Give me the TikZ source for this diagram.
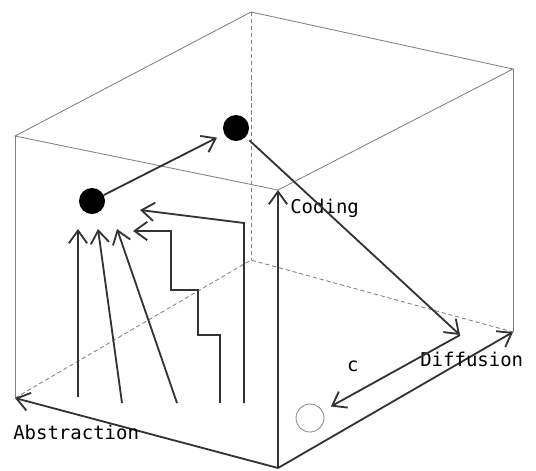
\documentclass[tikz,border=0pt]{standalone}
\usepackage{fontspec}
\newfontfamily\monofont{DejaVu Sans Mono}
\usetikzlibrary{arrows.meta}

\begin{document}
\begin{tikzpicture}[x=0.025cm, y=-0.025cm, >={Straight Barb[length=9pt,width=13pt]},
    edge/.style={black!50, line width=0.6pt},
    hidden/.style={edge, dash pattern=on 3pt off 2pt},
    flow/.style={->, black!80, line width=1.3pt},
    lbl/.style={font=\monofont\fontsize{13.5}{16}\selectfont, inner sep=0pt, black},
    dot/.style={circle, fill=black, inner sep=0pt, minimum size=0.65cm},
    ring/.style={circle, draw=black!45, line width=0.6pt, inner sep=0pt, minimum size=0.7cm}]
    \useasboundingbox (0,0) rectangle (536,470);

    % corners of the box
    \coordinate (TB) at (251,12);
    \coordinate (TL) at (15,136);
    \coordinate (TR) at (513,69);
    \coordinate (TF) at (278,190);
    \coordinate (BB) at (251,260);
    \coordinate (BL) at (15,398);
    \coordinate (BR) at (513,332);
    \coordinate (BF) at (278,468);

    % box
    \draw[edge] (TL) -- (TB) -- (TR) -- (TF) -- cycle;
    \draw[edge] (TL) -- (BL);
    \draw[edge] (TR) -- (BR);
    \draw[hidden] (TB) -- (BB);
    \draw[hidden] (BL) -- (BB) -- (BR);

    % the three axes
    \draw[flow] (BF) -- (TF);
    \draw[flow] (BF) -- (BL);
    \draw[flow] (BF) -- (BR);
    \node[lbl, anchor=base west] (coding) at (290,213) {Coding};
    \node[lbl, anchor=base west] (diffusion) at (420,366) {Diffusion};
    \node[lbl, anchor=base west] (abstraction) at (13,439) {Abstraction};

    % points in the space
    \node[dot] (p1) at (92,201) {};
    \node[dot] (p2) at (236,128) {};
    \coordinate (D) at (460,335);
    \node[ring] (p0) at (310,418) {};
    \draw[flow, shorten >=0.2cm] (p1) -- (p2);
    \draw[flow, shorten <=0.12cm] (p2) -- (D);
    \draw[flow, shorten >=0.235cm] (D) -- node[lbl, pos=0.78, above=0.55cm] {c} (p0);

    % paths up to the first point
    \foreach \i/\fx/\fy/\tx in {1/78/397/78, 2/122/403/98, 3/177/403/117} {
        \coordinate (foot\i) at (\fx,\fy);
        \coordinate (tip\i) at (\tx,229);
        \draw[flow] (foot\i) -- (tip\i);
    }
    \coordinate (foot4) at (220,403);
    \coordinate (tip4) at (133,231);
    \coordinate (foot5) at (244,403);
    \coordinate (tip5) at (140,210);
    \draw[flow] (foot4) |- (198,335) |- (171,290) |- (tip4);
    \draw[flow] (foot5) -- (244,223) -- (tip5);
\end{tikzpicture}
\end{document}
